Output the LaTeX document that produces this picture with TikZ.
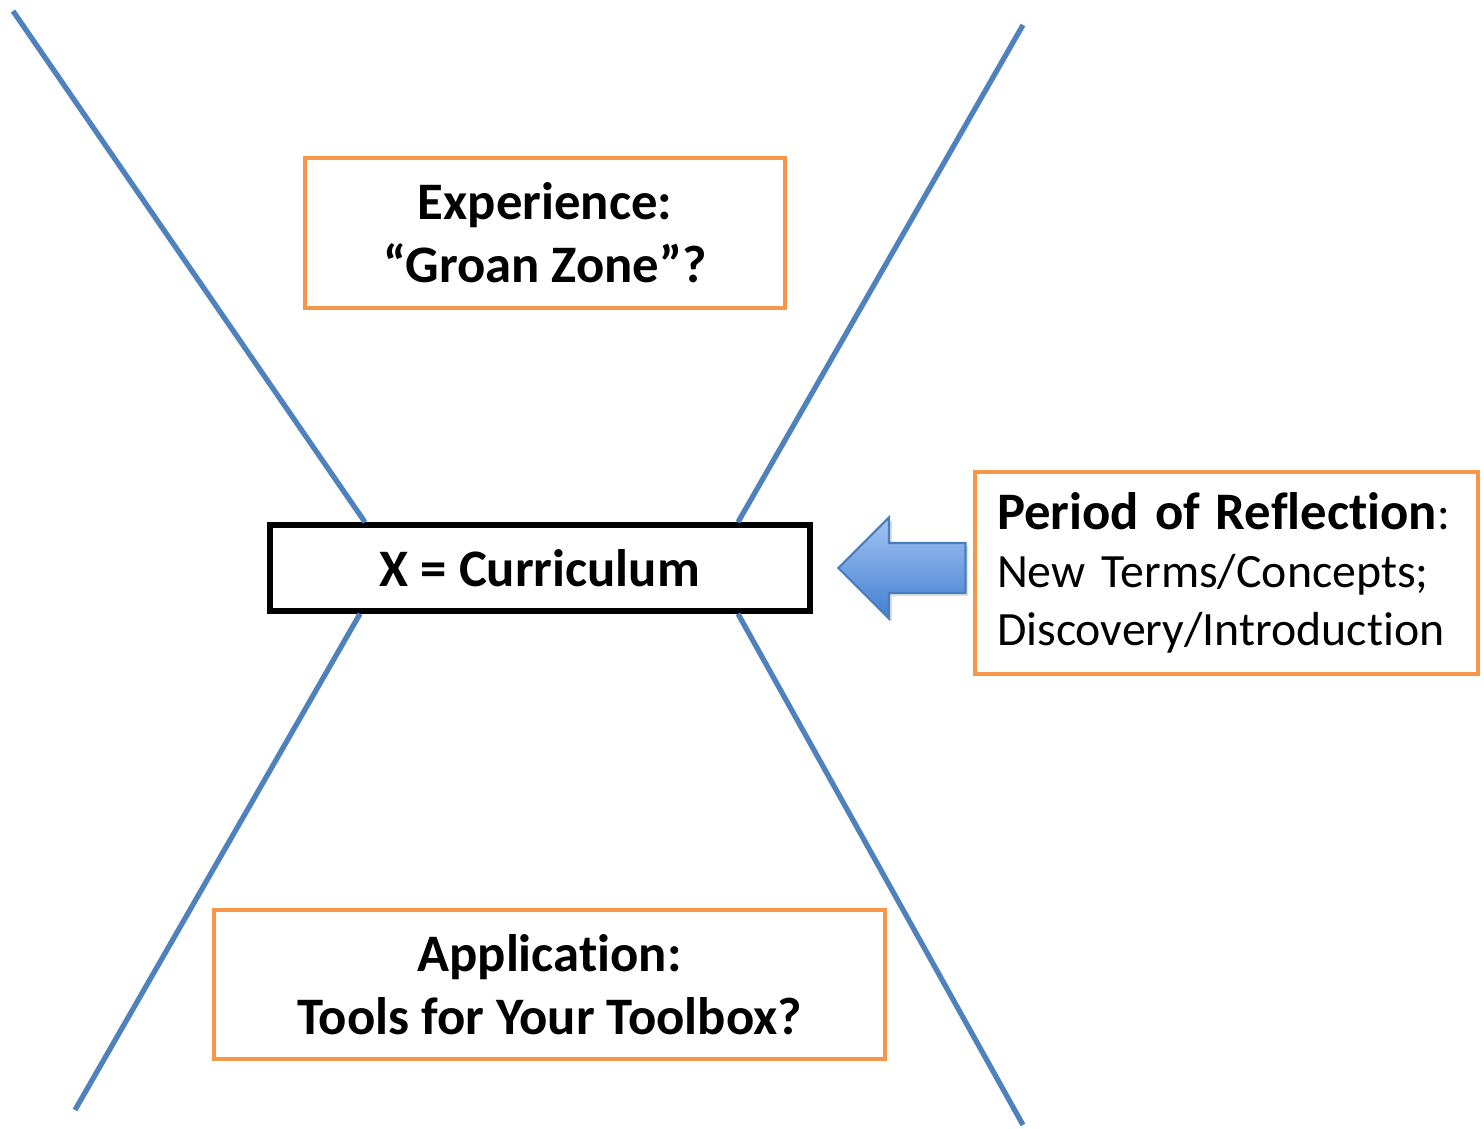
\documentclass[tikz,border=0pt]{standalone}
\usepackage{fontspec}
\setmainfont{Carlito}[Ligatures=NoCommon]
\usetikzlibrary{shapes.arrows,shadows}
\definecolor{lineblue}{RGB}{79,129,189}
\definecolor{boxorange}{RGB}{247,150,70}
\definecolor{arrowtop}{RGB}{163,196,244}
\definecolor{arrowbot}{RGB}{66,126,208}
\definecolor{arrowedge}{RGB}{74,126,187}
\tikzset{
  stage/.style={draw=boxorange, line width=1.4pt, align=center, font=\fontsize{15}{18}\selectfont\bfseries},
  wing/.style={draw=lineblue, line width=1.5pt},
}
\begin{document}
\begin{tikzpicture}[x=1cm,y=1cm]
\useasboundingbox (0,0) rectangle (14.84,11.28);
% boxes
\node[draw, line width=1.6pt, minimum width=5.4cm, minimum height=.86cm, font=\fontsize{15}{18}\selectfont\bfseries] (cur) at (5.40,5.60) {X = Curriculum};
\node[stage, minimum width=4.8cm, minimum height=1.5cm] (exp) at (5.45,8.95) {Experience:\\“Groan Zone”?};
\node[stage, minimum width=6.71cm, minimum height=1.49cm] (app) at (5.495,1.435) {Application:\\Tools for Your Toolbox?};
\node[draw=boxorange, line width=1.4pt, minimum width=5.03cm, minimum height=2.02cm, text width=4.59cm, inner xsep=.22cm, align=left, font=\fontsize{13.6}{16.6}\selectfont] (refl) at (12.265,5.55)
  {{\fontsize{15}{18}\selectfont\bfseries Period of Reflection}:\\New Terms/Concepts;\\Discovery/Introduction};
\node[single arrow, shape border rotate=180, draw=arrowedge, line width=.6pt, top color=arrowtop, bottom color=arrowbot,
  drop shadow={opacity=.25, shadow xshift=.03cm, shadow yshift=-.03cm},
  minimum height=1.27cm, inner xsep=0pt, inner ysep=.24cm, single arrow head extend=.255cm] (arr) at (9.145,5.60) {};
% the four wings
\coordinate (tl) at (0.13,11.17);
\coordinate (tr) at (10.23,11.03);
\coordinate (bl) at (0.75,0.18);
\coordinate (br) at (10.23,0.03);
\draw[wing] (tl) -- ([xshift=-1.75cm]cur.north);
\draw[wing] (tr) -- ([xshift=1.98cm]cur.north);
\draw[wing] (bl) -- ([xshift=-1.80cm]cur.south);
\draw[wing] (br) -- ([xshift=1.98cm]cur.south);
\end{tikzpicture}
\end{document}
